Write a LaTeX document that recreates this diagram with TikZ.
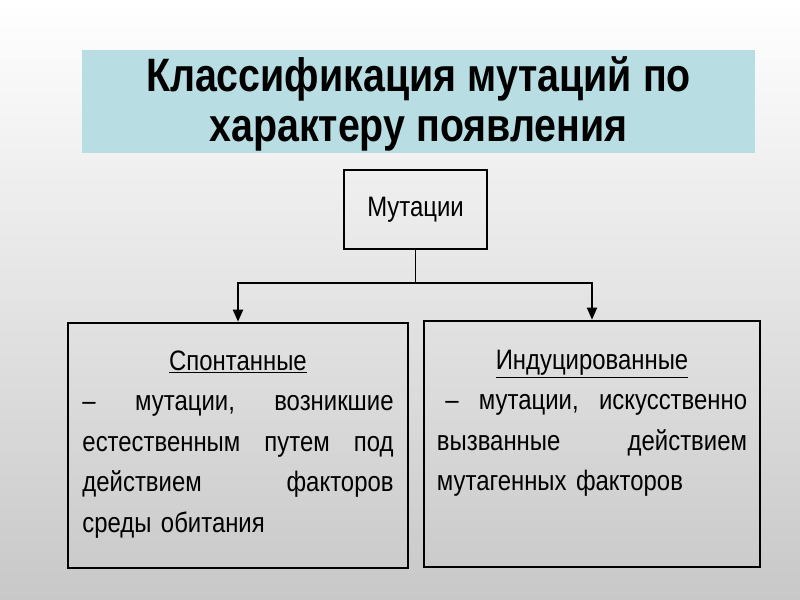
\documentclass[tikz,border=0pt]{standalone}
\usepackage{fontspec}
\newfontfamily\bodyfont[FakeStretch=0.85]{Liberation Sans}
\newfontfamily\titlefont[FakeStretch=0.84]{Liberation Sans}
\usetikzlibrary{arrows.meta}
\definecolor{titleblue}{RGB}{184,221,226}
\definecolor{bggray}{RGB}{200,200,200}

\begin{document}
\begin{tikzpicture}[x=0.03cm, y=-0.03cm,
    box/.style={draw, line width=2.2pt, rectangle},
    body/.style={font=\bodyfont\fontsize{24}{34.5}\selectfont, inner sep=0pt},
    link/.style={line width=1.6pt, -{Triangle[length=3.6mm, width=3mm]}}]
            % draw background
            \shade[top color=white, bottom color=bggray] (0,0) rectangle (800,600);
            \useasboundingbox (0,0) rectangle (800,600);

            % draw title
            \node[fill=titleblue, minimum width=20.19cm, minimum height=3.09cm] (title) at (418.5,101.5) {};
            \node[align=center, font=\titlefont\bfseries\fontsize{40}{42.5}\selectfont]
                  (title text) at ([yshift=-0.07cm]title.center)
                  {Классификация мутаций по\\характеру появления};

            % draw boxes
            \node[box, minimum width=4.29cm, minimum height=2.37cm, body] (mut) at (415.5,209.5) {Мутации};
            \node[box, minimum width=10.2cm, minimum height=7.35cm] (spont) at (238,445.5) {};
            \node[box, minimum width=10.08cm, minimum height=7.38cm] (induc) at (592,444) {};

            % draw texts of the boxes
            \node[body, text width=9.33cm, anchor=north] (spont text) at ([yshift=-0.87cm]spont.north)
                 {\makebox[\linewidth]{\underline{Спонтанные}}\\
                  – \hfill мутации, \hfill возникшие\\
                  естественным \hfill путем \hfill под\\
                  действием \hfill факторов\\
                  среды обитания};
            \node[body, text width=9.3cm, anchor=north] (induc text) at ([yshift=-0.9cm]induc.north)
                 {\makebox[\linewidth]{\underline{Индуцированные}}\\
                  \hspace*{0.25cm}– \hfill мутации, \hfill искусственно\\
                  вызванные \hfill действием\\
                  мутагенных факторов};

            % draw connectors
            \draw[line width=1pt] (mut.south) -- ++(0,33) coordinate (fork);
            \draw[link] (fork) -| (spont.north);
            \draw[link] (fork) -| (induc.north);
        \end{tikzpicture}
\end{document}
